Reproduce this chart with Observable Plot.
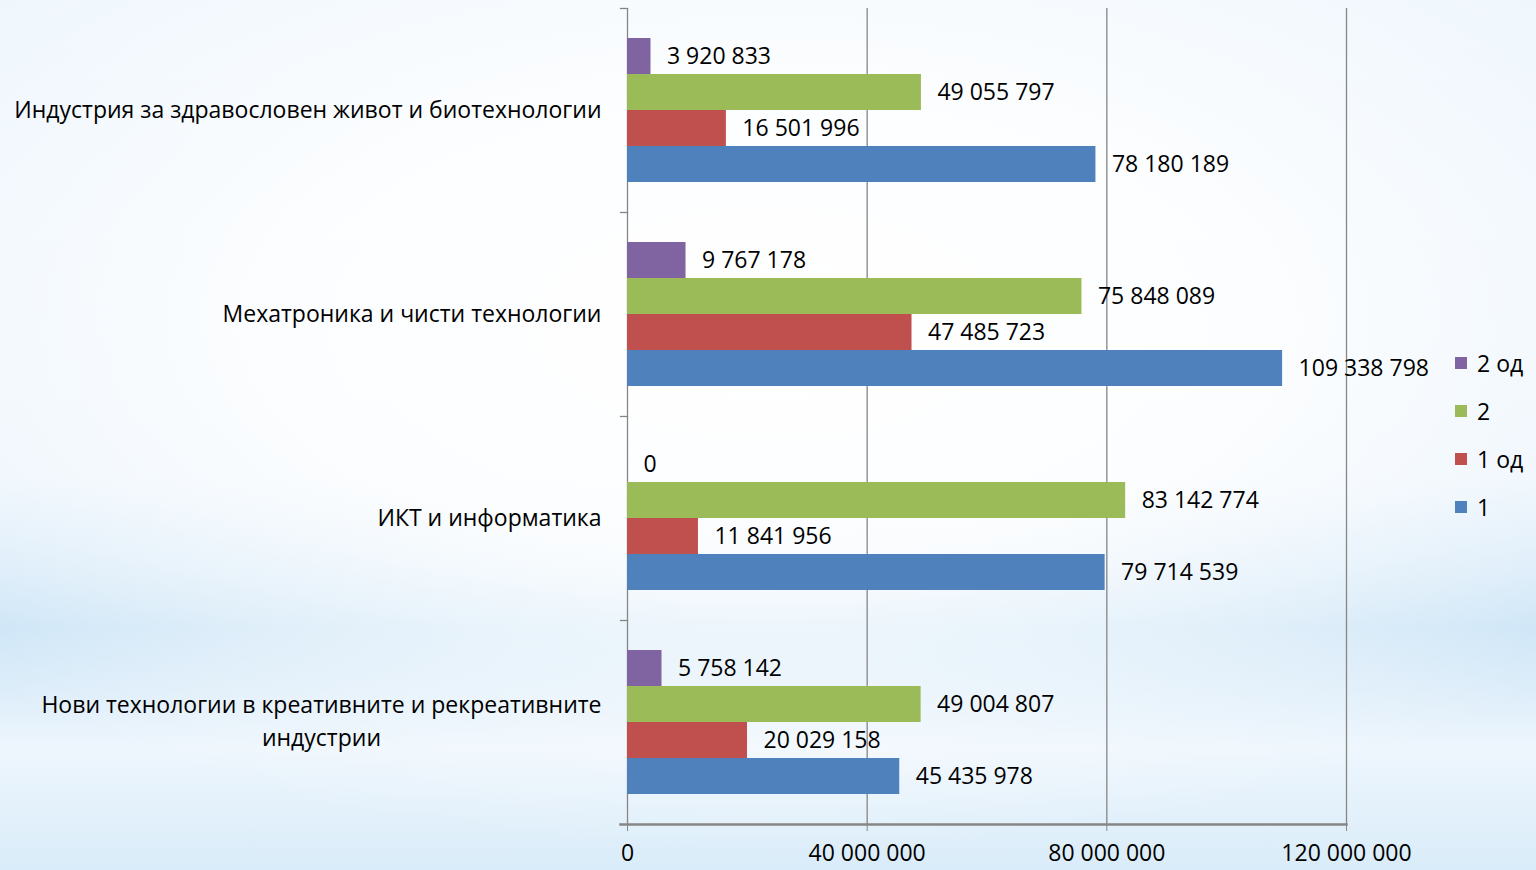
<!DOCTYPE html>
<html>
<head>
<meta charset="utf-8">
<script src="https://cdn.jsdelivr.net/npm/d3@7"></script>
<script src="https://cdn.jsdelivr.net/npm/@observablehq/plot@0.6"></script>
<style>
  html, body { margin: 0; padding: 0; width: 1536px; height: 870px; overflow: hidden; }
  body {
    font-family: "Open Sans", sans-serif;
    background:
      radial-gradient(ellipse 70% 60% at 50% 38%, rgba(255,255,255,1) 0%, rgba(255,255,255,0.85) 45%, rgba(255,255,255,0) 100%),
      linear-gradient(180deg, #eef6fd 0%, #e9f3fc 55%, #c9e3f6 72%, #eef6fd 86%, #d9ecf9 100%);
  }
  #chart { position: absolute; left: 0; top: 0; }
  #legend { position: absolute; left: 1455px; top: 339px; font-size: 23px; color: #000; }
  #legend .item { height: 48px; display: flex; align-items: center; }
  #legend .sw { width: 12px; height: 12px; margin-right: 10px; }
  svg [aria-label="x-axis tick"] path { stroke: #888; }
</style>
</head>
<body>
<div id="chart"></div>
<div id="legend"></div>
<script>
const categories = [
  "Индустрия за здравословен живот и биотехнологии",
  "Мехатроника и чисти технологии",
  "ИКТ и информатика",
  "Нови технологии в креативните и рекреативните индустрии"
];
const categoryLabels = [
  "Индустрия за здравословен живот и биотехнологии",
  "Мехатроника и чисти технологии",
  "ИКТ и информатика",
  "Нови технологии в креативните и рекреативните\nиндустрии"
];
const seriesNames = ["2 од", "2", "1 од", "1"];
const seriesColors = ["#8064A2", "#9BBB59", "#C0504D", "#4F81BD"];
// values per series, in category order
const values2od = [3920833, 9767178, 0, 5758142];
const values2 = [49055797, 75848089, 83142774, 49004807];
const values1od = [16501996, 47485723, 11841956, 20029158];
const values1 = [78180189, 109338798, 79714539, 45435978];
const xTicks = [0, 40000000, 80000000, 120000000];

const seriesValues = [values2od, values2, values1od, values1];
const data = [];
categories.forEach((c, i) => {
  seriesNames.forEach((s, j) => {
    data.push({category: c, series: s, value: seriesValues[j][i]});
  });
});

const fmt = d3.formatLocale({thousands: " ", grouping: [3], decimal: ",", currency: ["", ""]}).format(",");
const labelOf = new Map(categories.map((c, i) => [c, categoryLabels[i]]));

const W = 1536, H = 870, ML = 627, MR = 190, MT = 8, MB = 46;
const plotW = W - ML - MR;

const chart = Plot.plot({
  width: W,
  height: H,
  marginLeft: ML,
  marginRight: MR,
  marginTop: MT,
  marginBottom: MB,
  style: {background: "transparent", fontFamily: "'Open Sans', sans-serif", fontSize: "23px", color: "#000"},
  x: {domain: [0, 120000000], ticks: xTicks, tickFormat: fmt, tickSize: 7, tickPadding: 13, label: null},
  y: {domain: seriesNames, paddingInner: 0, paddingOuter: 0.76, axis: null},
  fy: {domain: categories, padding: 0, axis: "left", label: null, tickSize: 0, tickPadding: 26, tickFormat: d => labelOf.get(d)},
  color: {domain: seriesNames, range: seriesColors},
  marks: [
    Plot.ruleX(xTicks, {stroke: "#868686", strokeWidth: 1.3}),
    Plot.frame({anchor: "top", insetLeft: -7, insetRight: plotW, stroke: "#868686", strokeWidth: 1.3}),
    Plot.barX(data, {x: "value", y: "series", fy: "category", fill: "series"}),
    Plot.text(data, {x: "value", y: "series", fy: "category", text: d => fmt(d.value), textAnchor: "start", dx: 16, fill: "#000"}),
    Plot.frame({anchor: "bottom", facetAnchor: "bottom", insetLeft: -7, stroke: "#868686", strokeWidth: 2.5})
  ]
});
document.getElementById("chart").appendChild(chart);

// center the wrapped category label lines and widen their line spacing
chart.querySelectorAll("text").forEach(t => {
  const spans = t.querySelectorAll("tspan");
  if (spans.length > 1) {
    const w = spans[0].getComputedTextLength();
    spans[0].setAttribute("dy", "-0.24em");
    spans[1].setAttribute("dy", "1.44em");
    t.setAttribute("text-anchor", "middle");
    const tr = t.getAttribute("transform") || "";
    t.setAttribute("transform", tr + ` translate(${-w / 2},0)`);
  }
});

const legend = document.getElementById("legend");
seriesNames.forEach((s, i) => {
  const item = document.createElement("div");
  item.className = "item";
  const sw = document.createElement("div");
  sw.className = "sw";
  sw.style.background = seriesColors[i];
  const lab = document.createElement("span");
  lab.textContent = s;
  item.appendChild(sw);
  item.appendChild(lab);
  legend.appendChild(item);
});
</script>
</body>
</html>
